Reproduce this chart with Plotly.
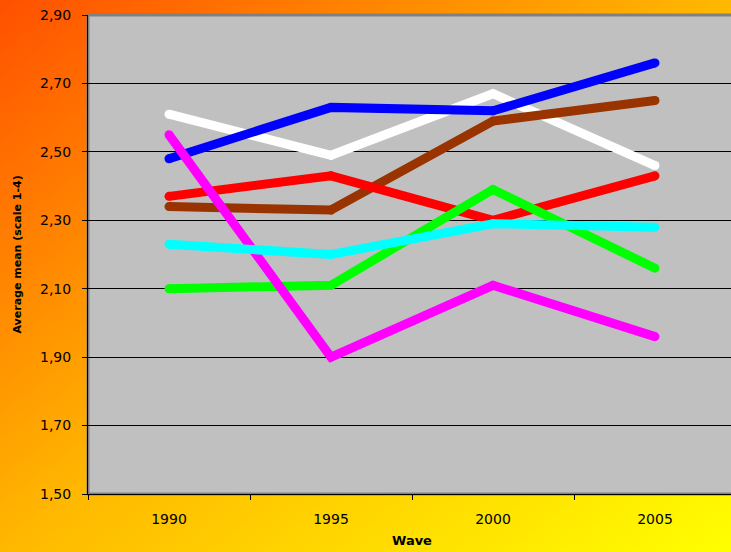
import base64
import plotly.graph_objects as go

# ---- data ----
waves = ["1990", "1995", "2000", "2005"]
white_vals = [2.61, 2.49, 2.67, 2.46]
blue_vals = [2.48, 2.63, 2.62, 2.76]
brown_vals = [2.34, 2.33, 2.59, 2.65]
red_vals = [2.37, 2.43, 2.30, 2.43]
green_vals = [2.10, 2.11, 2.39, 2.16]
magenta_vals = [2.55, 1.90, 2.11, 1.96]
cyan_vals = [2.23, 2.20, 2.29, 2.28]

series = [
    ("White", white_vals, "#FFFFFF"),
    ("Blue", blue_vals, "#0000FF"),
    ("Brown", brown_vals, "#993300"),
    ("Red", red_vals, "#FF0000"),
    ("Green", green_vals, "#00FF00"),
    ("Magenta", magenta_vals, "#FF00FF"),
    ("Cyan", cyan_vals, "#00FFFF"),
]

W, H = 731, 552
ML, MT, MB, MR = 88, 15, 58, 0
PW = W - ML - MR
PH = H - MT - MB

fig = go.Figure()
for name, vals, col in series:
    fig.add_trace(go.Scatter(
        x=waves, y=vals, name=name, mode="lines+markers",
        line=dict(color=col, width=9),
        marker=dict(color=col, size=9, line=dict(width=0)),
        hoverinfo="skip",
    ))

svg = (
    '<svg xmlns="http://www.w3.org/2000/svg" width="731" height="552" '
    'viewBox="0 0 731 552" preserveAspectRatio="none">'
    '<defs><linearGradient id="g" x1="0" y1="0" x2="1" y2="1">'
    '<stop offset="0" stop-color="#FF5000"/>'
    '<stop offset="0.5" stop-color="#FFB800"/>'
    '<stop offset="1" stop-color="#FFFF00"/>'
    '</linearGradient></defs>'
    '<rect width="731" height="552" fill="url(#g)"/></svg>'
)
src = "data:image/svg+xml;base64," + base64.b64encode(svg.encode()).decode()

TICKFONT = dict(family="DejaVu Sans, Arial, sans-serif", size=14, color="#000000")

fig.update_layout(
    width=W, height=H,
    margin=dict(l=ML, r=MR, t=MT, b=MB, pad=0, autoexpand=False),
    paper_bgcolor="#FFB000",
    plot_bgcolor="#C0C0C0",
    showlegend=False,
    separators=",.",
    font=dict(family="DejaVu Sans, Arial, sans-serif", size=13, color="#000000"),
    images=[dict(
        source=src, xref="paper", yref="paper",
        x=-ML / PW, y=1 + MT / PH, sizex=W / PW, sizey=H / PH,
        xanchor="left", yanchor="top", sizing="stretch", layer="below",
    )],
    shapes=[dict(
        type="rect", xref="paper", yref="paper", x0=0, x1=1.01, y0=0, y1=1,
        fillcolor="#C0C0C0", line=dict(color="#808080", width=3), layer="below",
    )],
    annotations=[
        dict(text="<b>Wave</b>", xref="paper", yref="paper",
             x=(412 - ML) / PW, y=-(540 - MT - PH) / PH,
             xanchor="center", yanchor="middle", showarrow=False,
             font=dict(family="DejaVu Sans, Arial, sans-serif", size=13)),
        dict(text="<b>Average mean (scale 1-4)</b>", xref="paper", yref="paper",
             x=(17 - ML) / PW, y=0.5, textangle=-90,
             xanchor="center", yanchor="middle", showarrow=False,
             font=dict(family="DejaVu Sans, Arial, sans-serif", size=11)),
    ],
    xaxis=dict(
        type="category", range=[-0.5, 3 + (W - 655) / 162],
        tickson="boundaries", ticks="outside", ticklen=5, tickcolor="#000000",
        showgrid=False, showline=True, linecolor="#000000", linewidth=1,
        tickfont=TICKFONT, ticklabelstandoff=12, automargin=False,
        zeroline=False,
    ),
    yaxis=dict(
        range=[1.5, 2.9], dtick=0.2, tick0=1.5, tickformat=".2f",
        ticks="outside", ticklen=5, tickcolor="#000000",
        showgrid=True, gridcolor="#000000", gridwidth=1,
        showline=True, linecolor="#000000", linewidth=1,
        tickfont=TICKFONT, ticklabelstandoff=8, automargin=False,
        zeroline=False,
    ),
)

fig.write_html(
    "out.html",
    config={"displayModeBar": False, "staticPlot": True},
    post_script="document.body.style.margin='0';document.body.style.overflow='hidden';",
)
